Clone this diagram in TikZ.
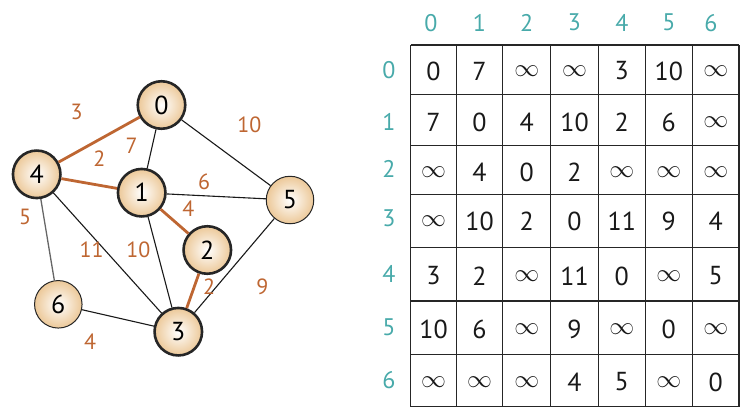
\documentclass[tikz,border=0pt]{standalone}
\usepackage{fontspec}
\setmainfont{PT Sans}
\usetikzlibrary{shadings}
\definecolor{edgeor}{RGB}{190,102,50}
\definecolor{teal}{RGB}{72,170,170}
\definecolor{tan}{RGB}{236,200,152}
\newcommand\infsym{$\infty$}
\tikzset{
  vert/.style={circle,minimum size=47.5pt,inner sep=0pt,inner color=white,outer color=tan,draw=black!85,font=\fontsize{26}{26}\selectfont},
  thickv/.style={vert,line width=2.6pt},
  thinv/.style={vert,line width=1pt},
  plain/.style={draw=black!90,line width=1.1pt},
  tree/.style={draw=edgeor,line width=2.8pt},
  grayedge/.style={draw=black!60,line width=1.3pt},
  wlabel/.style={text=edgeor,font=\fontsize{22}{22}\selectfont,inner sep=0pt},
  hdr/.style={text=teal,font=\fontsize{24}{24}\selectfont,inner sep=0pt},
  cell/.style={text=black!90,font=\fontsize{26}{26}\selectfont,inner sep=0pt},
  gridline/.style={draw=black!85,line width=1.3pt}
}
\begin{document}
\begin{tikzpicture}[x=1pt,y=-1pt]
\useasboundingbox (0,0) rectangle (751,418);
% vertices
\node[thickv] (v0) at (161.5,105) {0};
\node[thickv] (v4) at (36.7,174.3) {4};
\node[thickv] (v1) at (141.7,192.7) {1};
\node[thinv] (v5) at (290,200) {5};
\node[thickv] (v2) at (207.3,250) {2};
\node[thinv] (v6) at (58.3,304.3) {6};
\node[thickv] (v3) at (178.3,331.7) {3};
% edges
\path[plain] (v0) -- (v1);
\path[plain] (v0) -- (v5);
\path[plain] (v1) -- (v5);
\path[plain] (v4) -- (v3);
\path[plain] (v1) -- (v3);
\path[plain] (v5) -- (v3);
\path[plain] (v6) -- (v3);
\path[grayedge] (v4) -- (v6);
\path[tree] (v0) -- (v4);
\path[tree] (v4) -- (v1);
\path[tree] (v1) -- (v2);
\path[tree] (v2) -- (v3);
% weights
\node[wlabel] (w04) at (76.7,111.7) {3};
\node[wlabel] (w05) at (249.3,125) {10};
\node[wlabel] (w01) at (131.7,146) {7};
\node[wlabel] (w41) at (99.3,158.3) {2};
\node[wlabel] (w15) at (204,181.7) {6};
\node[wlabel] (w12) at (188.3,208.3) {4};
\node[wlabel] (w46) at (25,216.7) {5};
\node[wlabel] (w43) at (91.7,250) {11};
\node[wlabel] (w13) at (138.3,250) {10};
\node[wlabel] (w23) at (209,286.7) {2};
\node[wlabel] (w53) at (262.3,286.7) {9};
\node[wlabel] (w63) at (90,341.7) {4};
% matrix grid
\foreach \x in {410.7,456.3,502.7,550.7,598.3,645.3,692.3,739}
  \path[gridline] (\x,45) -- (\x,406.7);
\foreach \y in {45,94.3,145.3,194.3,247.7,301,354.3,406.7}
  \path[gridline] (410.7,\y) -- (739,\y);
% headers
\foreach \cx [count=\j from 0] in {431,479.5,526.7,574.5,621.8,668.8,711}
  \node[hdr] (col\j) at (\cx,22.7) {\j};
\foreach \cy [count=\i from 0] in {70,122,169,218,274.3,327.7,380.5}
  \node[hdr] (row\i) at (389,\cy) {\i};
% entries
\foreach \cy [count=\i from 0] in {71,122,172,221,276,329,382}{
  \ifcase\i
    \def\vals{0,7,\infsym,\infsym,3,10,\infsym}\or
    \def\vals{7,0,4,10,2,6,\infsym}\or
    \def\vals{\infsym,4,0,2,\infsym,\infsym,\infsym}\or
    \def\vals{\infsym,10,2,0,11,9,4}\or
    \def\vals{3,2,\infsym,11,0,\infsym,5}\or
    \def\vals{10,6,\infsym,9,\infsym,0,\infsym}\or
    \def\vals{\infsym,\infsym,\infsym,4,5,\infsym,0}\fi
  \foreach \v [count=\j from 0] in \vals {
    \pgfmathsetmacro\cx{{433.5,479.5,526.7,574.5,621.8,668.8,715.7}[\j]}
    \node[cell] (m\i\j) at (\cx,\cy) {\v};
  }
}
\end{tikzpicture}
\end{document}
